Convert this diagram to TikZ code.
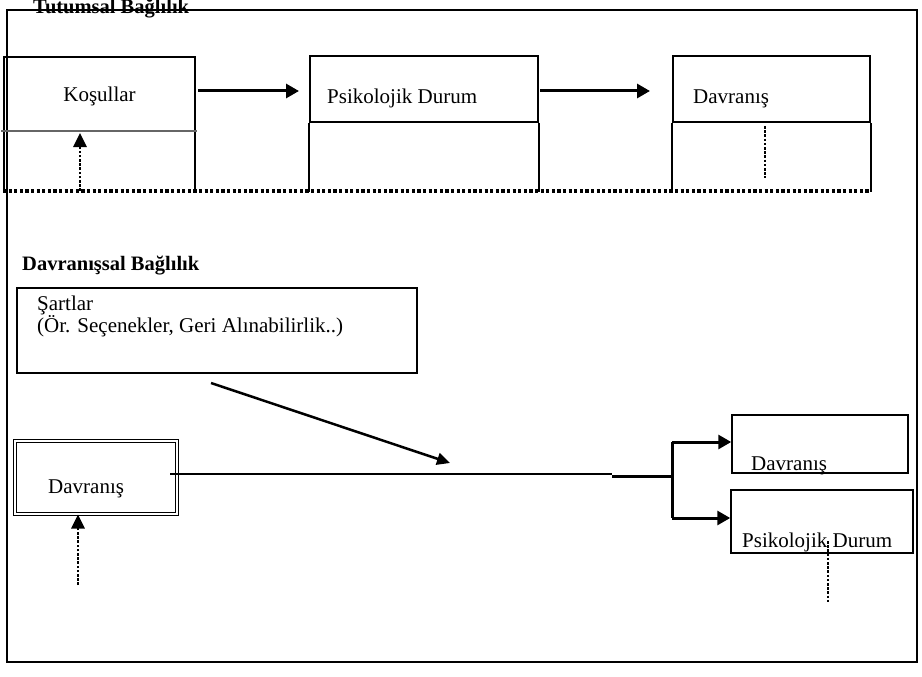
\documentclass[tikz,border=0pt]{standalone}
\usepackage{fontspec}
\setmainfont{Liberation Serif}
\usetikzlibrary{arrows.meta}

\tikzset{
    box/.style={draw, line width=2pt, inner sep=0pt},
    thinbox/.style={draw, line width=1.5pt, inner sep=0pt},
    lbl/.style={font=\fontsize{21}{24}\selectfont, inner sep=0pt, anchor=base west},
    ttl/.style={font=\fontsize{20.5}{24}\selectfont\bfseries, inner sep=0pt, anchor=base west},
    conn/.style={line width=3pt, -{Triangle[length=13pt,width=14pt]}},
    dotline/.style={line width=3.5pt, dash pattern=on 3.2pt off 2.4pt},
    dotconn/.style={line width=2.6pt, dash pattern=on 2.6pt off 1.6pt}
}

\begin{document}
\begin{tikzpicture}[x=1pt, y=-1pt]

        \useasboundingbox (0,0) rectangle (922,677);
        \fill [white] (0,0) rectangle (922,677);

        \draw [line width=1.2pt] (7,10) rectangle (917,662);

        % Tutumsal

        \node [ttl] (t1) at (33,14) {Tutumsal Bağlılık};

        \draw [line width=2pt] (4,191) -- (4,57) -- (195,57) -- (195,191);
        \draw [line width=1.2pt, black!60] (1,131) -- (197,131);
        \node [lbl, anchor=base] (kos) at (99.5,102) {Koşullar};

        \node [box, minimum width=228pt, minimum height=66pt] (psi) at (424,89) {};
        \draw [line width=2pt] (psi.south west) -- ++(0,69);
        \draw [line width=2pt] (psi.south east) -- ++(0,69);
        \node [lbl] (psitxt) at (327,103) {Psikolojik Durum};

        \node [box, minimum width=197pt, minimum height=66pt] (dav) at (771.5,89) {};
        \draw [line width=2pt] (dav.south west) -- ++(0,69);
        \draw [line width=2pt] (dav.south east) -- ++(0,69);
        \node [lbl] (davtxt) at (693,103) {Davranış};

        \coordinate (kosR) at (198,91);
        \coordinate (psiR) at (540,91);
        \draw [conn, shorten >=10pt] (kosR) -- (kosR -| psi.west);
        \draw [conn, shorten >=22pt] (psiR) -- (psiR -| dav.west);

        \coordinate (base) at (3,191);
        \coordinate (kosB) at (80,191);
        \coordinate (kosD) at (80,133);
        \coordinate (davB) at (765,178);
        \draw [dotline] (base) -- (870,191);
        \draw [dotconn] (dav.south -| davB) ++(0,3) -- (davB);
        \draw [dotconn, -{Triangle[length=14pt,width=13pt]}] (kosB) -- (kosD);

        % Davranissal

        \node [ttl] (t2) at (22,270) {Davranışsal Bağlılık};

        \node [thinbox, minimum width=400pt, minimum height=85pt] (sart) at (217,330.5) {};
        \node [lbl] (sart1) at (37,310) {Şartlar};
        \node [lbl] (sart2) at (37,332) {(Ör. Seçenekler, Geri Alınabilirlik..)};

        \node [draw, double, line width=1pt, double distance=1.6pt,
               minimum width=162pt, minimum height=73pt] (dav2) at (96,477.5) {};
        \node [lbl] (dav2txt) at (48,493) {Davranış};

        \node [thinbox, minimum width=176pt, minimum height=58pt] (davR) at (820,444) {};
        \node [lbl] (davRtxt) at (751,470) {Davranış};
        \node [thinbox, minimum width=182pt, minimum height=63pt] (psiRb) at (822,521.5) {};
        \node [lbl] (psiRtxt) at (742,547) {Psikolojik Durum};

        \coordinate (diagA) at (211,383);
        \coordinate (diagB) at (450,463);
        \draw [line width=2.5pt, -{Triangle[length=13pt,width=12pt]}] (diagA) -- (diagB);

        \coordinate (lineA) at (170,474);
        \coordinate (lineB) at (612,474);
        \coordinate (fork) at (672,476);
        \coordinate (forkT) at (672,442);
        \coordinate (forkB) at (672,518);
        \draw [line width=2pt] (lineA) -- (lineB);
        \draw [line width=3pt] (lineB |- fork) -- (fork);
        \draw [line width=3pt] (forkT) -- (forkB);
        \draw [conn] (forkT) -- (forkT -| davR.west);
        \draw [conn] (forkB) -- (forkB -| psiRb.west);

        \coordinate (dav2B) at (78,585);
        \coordinate (psiRd) at (828,602);
        \draw [dotconn, -{Triangle[length=14pt,width=13pt]}] (dav2B) -- (dav2.south -| dav2B);
        \draw [dotconn] (828,541) -- (psiRd);

    \end{tikzpicture}
\end{document}
